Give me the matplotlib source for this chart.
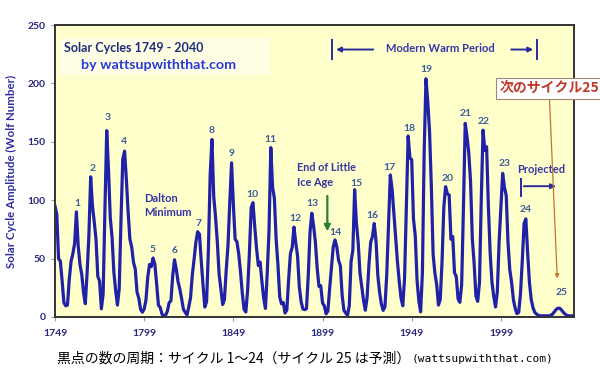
import numpy as np
import matplotlib.pyplot as plt
from matplotlib.patches import Rectangle

plt.rcParams['font.family'] = ['Lato', 'DejaVu Sans']
JP = ['Noto Sans CJK JP', 'DejaVu Sans']

# yearly sunspot number
ssn_1749 = [95, 88, 50, 47.8, 30.7, 12.2, 9.6, 10.2, 32.4, 47.6,
            54.0, 62.9, 90, 61.2, 45.1, 36.4, 20.9, 11.4, 37.8, 69.8,
            120, 95, 81.6, 66.5, 34.8, 30.6, 7.0, 19.8, 92.5, 159.5,
            125.9, 84.8, 68.1, 38.5, 22.8, 10.2, 24.1, 82.9, 135, 142,
            118.1, 89.9, 66.6, 60.0, 46.9, 41.0, 21.3, 16.0, 6.4, 4.1]
ssn_1799 = [6.8, 14.5, 34.0, 45.0, 43.1, 50.5, 45, 28.1, 10.1, 8.1,
            2.5, 0.0, 1.4, 5.0, 12.2, 13.9, 35.4, 49, 41.0, 30.1,
            23.9, 15.6, 6.6, 4.0, 1.8, 8.5, 16.6, 36.3, 49.6, 64.2,
            73, 70.9, 47.8, 27.5, 8.5, 13.2, 56.9, 121.5, 152, 103.2,
            85.7, 64.6, 36.7, 24.2, 10.7, 15.0, 40.1, 61.5, 98.5, 132]
ssn_1849 = [96.3, 66.6, 64.5, 54.1, 39.0, 20.6, 6.7, 4.3, 22.7, 54.8,
            93.8, 97.9, 77.2, 59.1, 44.0, 47.0, 30.5, 16.3, 7.3, 37.6,
            74.0, 145, 111.2, 101.6, 66.2, 44.7, 17.0, 11.3, 12.4, 3.4,
            6.0, 32.3, 54.3, 59.7, 77, 63.5, 52.2, 25.4, 13.1, 6.8,
            6.3, 7.1, 35.6, 73.0, 88.8, 78.0, 64.0, 41.8, 26.2, 26.7]
ssn_1899 = [12.1, 9.5, 2.7, 5.0, 24.4, 42.0, 60, 66, 60, 48.5,
            43.9, 18.6, 5.7, 3.6, 1.4, 9.6, 47.4, 57.1, 109, 80.6,
            63.6, 37.6, 26.1, 14.2, 5.8, 16.7, 44.3, 63.9, 69.0, 80,
            64.9, 35.7, 21.2, 11.1, 5.7, 8.7, 36.1, 79.7, 121.6, 109.6,
            88.8, 67.8, 47.5, 30.6, 16.3, 9.6, 33.2, 92.6, 155, 136.3]
ssn_1949 = [134.7, 83.9, 69.4, 31.5, 13.9, 4.4, 38.0, 141.7, 204, 184.8,
            159.0, 112.3, 53.9, 37.6, 27.9, 10.2, 15.1, 47.0, 93.8, 111.6,
            105.5, 104.5, 66.6, 68.9, 38.0, 34.5, 15.5, 12.6, 27.5, 92.5,
            165.8, 154.6, 140.4, 115.9, 66.6, 45.9, 17.9, 13.4, 29.4, 100.2,
            160, 142.6, 145.7, 94.3, 54.6, 29.9, 17.5, 8.6, 21.5, 64.3,
            93.3, 123, 111.0, 104.0, 63.7, 40.4, 29.8, 15.2, 7.5, 2.9]
# projected part, 2009-2040
ssn_proj = [4, 20, 48, 80, 84, 55, 30, 15, 8, 4,
            2.5, 1.5, 1, 1, 1, 1, 1, 1, 1.5, 2.5,
            4.5, 6.5, 7.5, 7.5, 6, 4, 2.5, 1.5, 1, 1,
            1, 1]

ssn = np.array(ssn_1749 + ssn_1799 + ssn_1849 + ssn_1899 + ssn_1949 + ssn_proj)
years = np.arange(1749, 1749 + len(ssn))

cycle_names = [str(i) for i in range(1, 26)]
label_x = [1761.7, 1770.1, 1778.5, 1787.7, 1803.8, 1815.9, 1829.3, 1836.9, 1848.1,
           1859.6, 1869.9, 1884.0, 1893.2, 1906.0, 1918.2, 1927.1, 1936.4, 1947.5,
           1957.4, 1969.0, 1979.4, 1989.5, 2000.9, 2013.1, 2033.1]
label_y = [97, 127, 171, 150, 58, 57, 80, 160, 140, 105, 152, 84, 97, 72, 114, 87,
           128, 161, 212, 119, 174, 167, 131, 92, 21]

xticks = [1749, 1799, 1849, 1899, 1949, 1999]
yticks = [0, 50, 100, 150, 200, 250]

navy = '#27277f'
txtblue = '#3535a6'

fig = plt.figure(figsize=(6, 3.8), dpi=100)
ax = fig.add_axes([55 / 600, 1 - 317 / 380, 519 / 600, 292 / 380])
ax.set_facecolor('#ffffcc')

ax.plot(years, ssn, color='#2020a8', lw=2.3, solid_joinstyle='round')
ax.set_xlim(1749, 2040)
ax.set_ylim(0, 250)
ax.set_xticks(xticks)
ax.set_yticks(yticks)
ax.tick_params(length=3, color='#999999', labelcolor=navy, labelsize=7.5)
ax.tick_params(axis='x', pad=6)
ax.tick_params(axis='y', pad=4)
for lab in ax.get_xticklabels() + ax.get_yticklabels():
    lab.set_fontweight('bold')
for s in ax.spines.values():
    s.set_color('#333333')
    s.set_linewidth(1.4)

ax.set_ylabel('Solar Cycle Amplitude (Wolf Number)', fontsize=8.3,
              fontweight='bold', color='#2e2ea0')
ax.yaxis.set_label_coords(-0.074, 0.5)

# title block
ax.add_patch(Rectangle((0.01, 0.83), 0.405, 0.127, transform=ax.transAxes,
                       fc='#ffffe6', ec='none'))
ax.text(0.018, 0.922, 'Solar Cycles 1749 - 2040', transform=ax.transAxes,
        ha='left', va='center', fontsize=9, fontweight='bold', color='#1f2d7a')
ax.text(0.05, 0.863, 'by wattsupwiththat.com', transform=ax.transAxes,
        ha='left', va='center', fontsize=10.3, fontweight='bold', color='#2a3ad6')

for name, x, y in zip(cycle_names, label_x, label_y):
    ax.text(x, y, name, ha='center', va='center', fontsize=7.5,
            fontweight='bold', color='#3d5a99')

ax.text(1798.9, 95.5, 'Dalton\nMinimum', ha='left', va='center', fontsize=8,
        fontweight='bold', color=txtblue, linespacing=1.3)
# two separate lines so the label box stays clear of the "15" label
ax.text(1884.5, 128, 'End of Little', ha='left', va='center',
        fontsize=7.8, fontweight='bold', color=txtblue)
ax.text(1884.5, 115.5, 'Ice Age', ha='left', va='center',
        fontsize=7.8, fontweight='bold', color=txtblue)
ax.annotate('', xy=(1901.7, 71), xytext=(1901.7, 106),
            arrowprops=dict(arrowstyle='-|>', color='#2e7d32', lw=1.6,
                            mutation_scale=9))

# modern warm period
ax.text(1965.1, 230, 'Modern Warm Period', ha='center', va='center',
        fontsize=8, fontweight='bold', color=txtblue)
ax.annotate('', xy=(1905, 229), xytext=(1929, 229),
            arrowprops=dict(arrowstyle='-|>', color='#2a2a9a', lw=1.4,
                            mutation_scale=7))
ax.annotate('', xy=(2018.7, 229), xytext=(2003.2, 229),
            arrowprops=dict(arrowstyle='-|>', color='#2a2a9a', lw=1.4,
                            mutation_scale=7))
ax.plot([1904.1, 1904.1], [221, 237], color='#2a2a9a', lw=1.4)
ax.plot([2019.4, 2019.4], [221, 237], color='#2a2a9a', lw=1.4)

# projected
ax.text(2021.8, 126, 'Projected', ha='center', va='center', fontsize=8,
        fontweight='bold', color=txtblue)
ax.plot([2010.3, 2010.3], [103.5, 118.5], color='#2a2a9a', lw=1.4)
ax.annotate('', xy=(2031.5, 112), xytext=(2010.3, 112),
            arrowprops=dict(arrowstyle='-|>', color='#2a2a9a', lw=1.4,
                            mutation_scale=7))

# callout for next cycle
ax.annotate('次のサイクル25', xy=(2030.6, 33), xytext=(2026, 196),
            ha='center', va='center', fontsize=10, fontweight='bold',
            color='#c0392b', family=JP, annotation_clip=False,
            bbox=dict(boxstyle='square,pad=0.25', fc='white', ec='#a08878', lw=0.8),
            arrowprops=dict(arrowstyle='-|>', color='#c8742e', lw=0.9,
                            mutation_scale=6, shrinkA=0, shrinkB=0))

# caption
cap = fig.text(57 / 600, 1 - 359 / 380, '黒点の数の周期：サイクル 1～24（サイクル 25 は予測）',
               ha='left', va='center', fontsize=10, family=JP, color='black')
fig.canvas.draw()
bb = cap.get_window_extent()
fig.text(bb.x1 / 600 + 0.003, 1 - 359 / 380, '(wattsupwiththat.com)', ha='left',
         va='center', fontsize=8, family='DejaVu Sans Mono', color='black')

fig.savefig('out.png', dpi=100)
